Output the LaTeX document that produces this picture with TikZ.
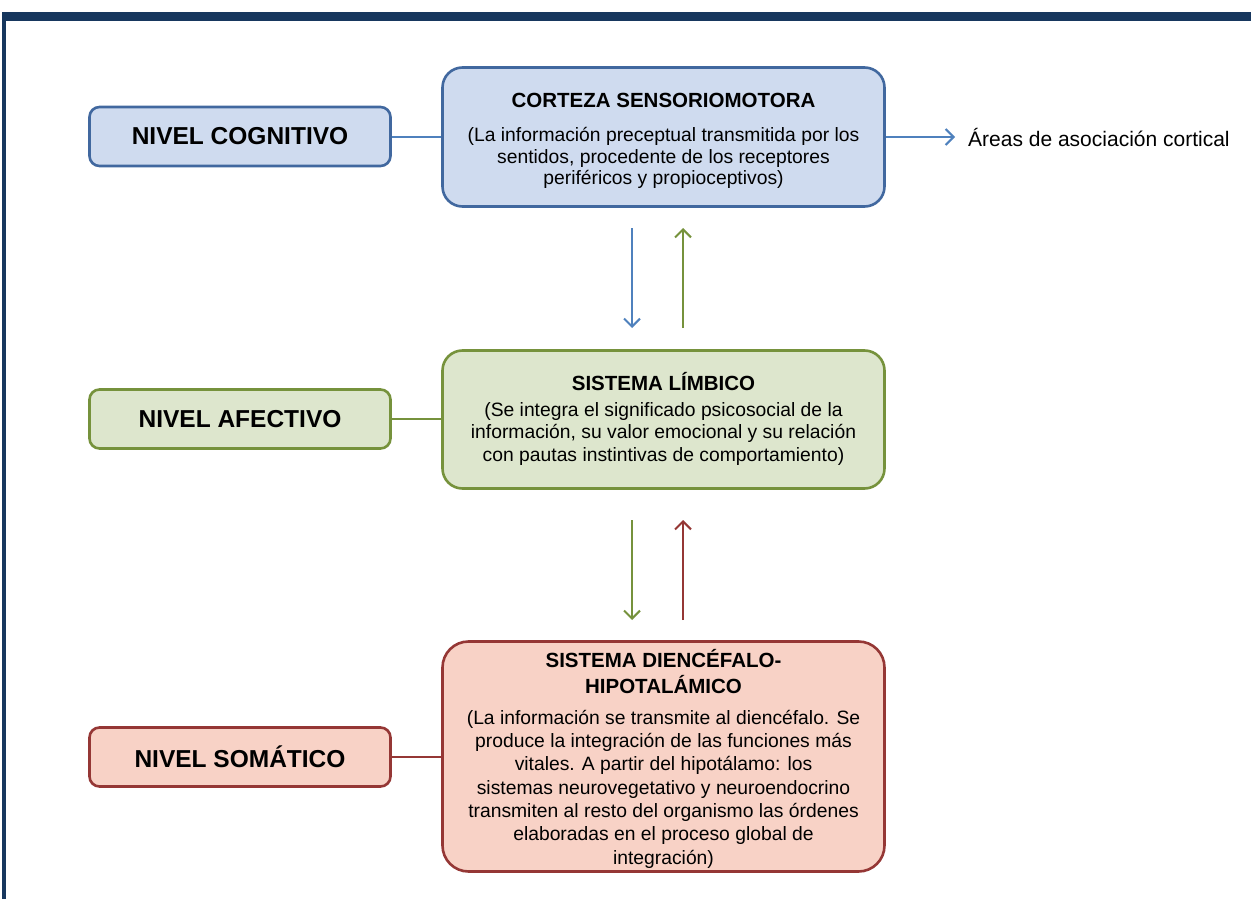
\documentclass[tikz,border=0pt]{standalone}
\usepackage{fontspec}
\setmainfont{Liberation Sans}
\usetikzlibrary{arrows.meta}
\definecolor{navy}{HTML}{17375E}
\definecolor{bluedraw}{HTML}{41689F}
\definecolor{bluefill}{HTML}{CFDBEF}
\definecolor{bluearr}{HTML}{4F81BD}
\definecolor{greendraw}{HTML}{76923C}
\definecolor{greenfill}{HTML}{DDE6CD}
\definecolor{reddraw}{HTML}{953735}
\definecolor{redfill}{HTML}{F8D2C6}
\begin{document}
\begin{tikzpicture}[x=1pt,y=-1pt,
  lbox/.style={draw, line width=2.6pt, rounded corners=10pt, minimum width=301pt, minimum height=59pt, inner sep=0pt, font=\fontsize{24.5}{28}\selectfont\bfseries},
  rbox/.style={draw, line width=2.6pt, rounded corners=20pt, minimum width=442pt, inner sep=0pt},
  ttl/.style={font=\fontsize{20.5}{26}\selectfont\bfseries, align=center, inner sep=0pt},
  bodytxt/.style={font=\fontsize{19.3}{22.5}\selectfont, align=center, inner sep=0pt},
  conn/.style={line width=2pt},
  arr/.style={conn, -{Straight Barb[length=8pt,width=16pt,line width=2pt]}}
]
\useasboundingbox (0,0) rectangle (1251,899);
\fill[navy] (2,12) rectangle (1251,21);
\fill[navy] (2,12) rectangle (6,899);

% left level boxes
\node[lbox, draw=bluedraw, fill=bluefill] (cog) at (240,136.5) {NIVEL COGNITIVO};
\node[lbox, draw=greendraw, fill=greenfill] (afe) at (240,419) {NIVEL AFECTIVO};
\node[lbox, draw=reddraw, fill=redfill] (som) at (240,757) {NIVEL SOMÁTICO};

% right system boxes
\node[rbox, draw=bluedraw, fill=bluefill, minimum height=139pt] (cort) at (663.5,137) {};
\node[rbox, draw=greendraw, fill=greenfill, minimum height=138pt] (limb) at (663.5,419.5) {};
\node[rbox, draw=reddraw, fill=redfill, minimum height=230pt, rounded corners=26pt] (dien) at (663.5,756.5) {};

% texts
\node[ttl] (cortT) at (663.5,100) {CORTEZA SENSORIOMOTORA};
\node[bodytxt, font=\fontsize{19.3}{21.5}\selectfont] (cortB) at (663.5,158) {(La información preceptual transmitida por los\\sentidos, procedente de los receptores\\periféricos y propioceptivos)};

\node[ttl] (limbT) at (663.5,382) {SISTEMA LÍMBICO};
\node[bodytxt] (limbB) at (663.5,434) {(Se integra el significado psicosocial de la\\información, su valor emocional y su relación\\con pautas instintivas de comportamiento)};

\node[ttl] (dienT) at (663.5,672) {SISTEMA DIENCÉFALO-\\HIPOTALÁMICO};
\node[bodytxt, font=\fontsize{19.3}{23.3}\selectfont] (dienB) at (663.5,789) {(La información se transmite al diencéfalo. Se\\produce la integración de las funciones más\\vitales. A partir del hipotálamo: los\\sistemas neurovegetativo y neuroendocrino\\transmiten al resto del organismo las órdenes\\elaboradas en el proceso global de\\integración)};

\node[font=\fontsize{21}{25}\selectfont, anchor=west, inner sep=0pt] (areas) at (968,137) {Áreas de asociación cortical};

% horizontal connectors
\draw[conn, bluearr] (cog.east) -- (cog.east -| cort.west);
\draw[conn, greendraw] (afe.east) -- (afe.east -| limb.west);
\draw[conn, reddraw] (som.east) -- (som.east -| dien.west);
\draw[arr, bluearr, shorten >=13pt] (cort.east) -- (areas.west);

% vertical arrows
\coordinate (a1s) at (632,228); \coordinate (a1e) at (632,328);
\coordinate (a2s) at (683,328); \coordinate (a2e) at (683,228);
\coordinate (a3s) at (632,520); \coordinate (a3e) at (632,620);
\coordinate (a4s) at (683,620); \coordinate (a4e) at (683,520);
\draw[arr, bluearr] (a1s) -- (a1e);
\draw[arr, greendraw] (a2s) -- (a2e);
\draw[arr, greendraw] (a3s) -- (a3e);
\draw[arr, reddraw] (a4s) -- (a4e);
\end{tikzpicture}
\end{document}
